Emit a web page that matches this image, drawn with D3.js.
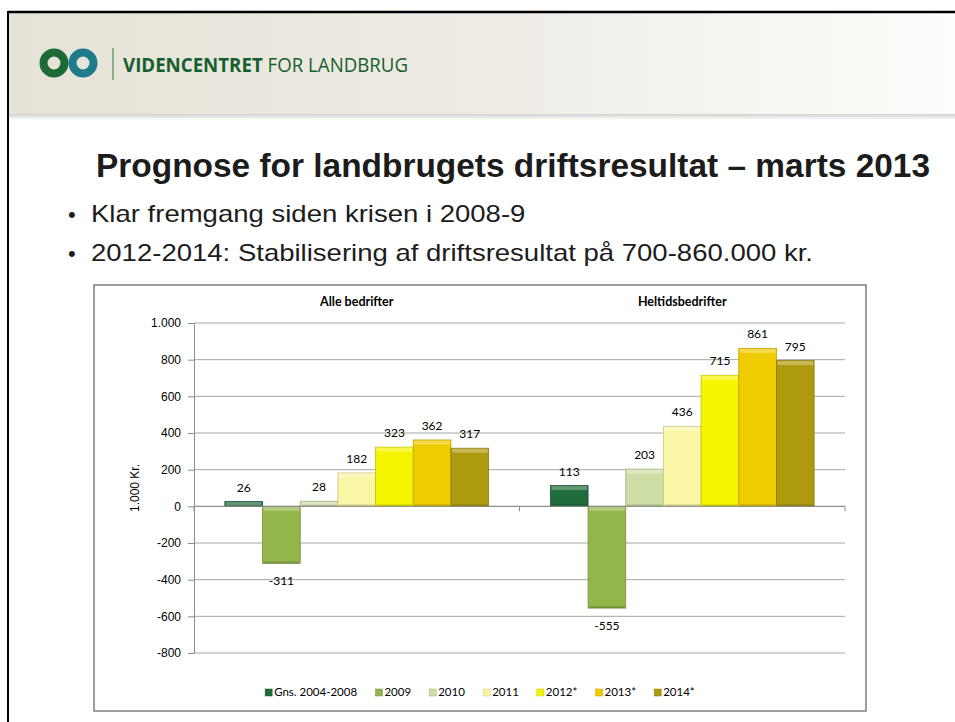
<!DOCTYPE html>
<html>
<head>
<meta charset="utf-8">
<script src="https://cdnjs.cloudflare.com/ajax/libs/d3/7.8.5/d3.min.js"></script>
<style>
  body { margin: 0; background: #fff; }
  svg { display: block; }
</style>
</head>
<body>
<svg id="slide" width="955" height="722"></svg>
<script>
// chart data
var categories = ['Alle bedrifter', 'Heltidsbedrifter'];
var seriesNames = ['Gns. 2004-2008', '2009', '2010', '2011', '2012*', '2013*', '2014*'];
var alleValues = [26, -311, 28, 182, 323, 362, 317];
var heltidValues = [113, -555, 203, 436, 715, 861, 795];
var yTicks = [-800, -600, -400, -200, 0, 200, 400, 600, 800, 1000];
var bullets = ['Klar fremgang siden krisen i 2008-9',
               '2012-2014: Stabilisering af driftsresultat på 700-860.000 kr.'];

var seriesColors = ['#1f6b3b', '#93b64a', '#cddfa6', '#f9f7a6', '#f5f500', '#efcc00', '#ae9a0e'];

var svg = d3.select('#slide');
var defs = svg.append('defs');

// ---- slide frame + header ----
var hdr = defs.append('linearGradient').attr('id', 'hdrGrad');
hdr.append('stop').attr('offset', '0%').attr('stop-color', '#e5e2d7');
hdr.append('stop').attr('offset', '55%').attr('stop-color', '#efede6');
hdr.append('stop').attr('offset', '100%').attr('stop-color', '#fdfdfb');

var shade = defs.append('linearGradient').attr('id', 'shadeGrad')
    .attr('x1', 0).attr('y1', 0).attr('x2', 0).attr('y2', 1);
shade.append('stop').attr('offset', '0%').attr('stop-color', '#000').attr('stop-opacity', 0.18);
shade.append('stop').attr('offset', '100%').attr('stop-color', '#000').attr('stop-opacity', 0);

svg.append('rect').attr('x', 9).attr('y', 13).attr('width', 946).attr('height', 101)
    .attr('fill', 'url(#hdrGrad)');
svg.append('rect').attr('x', 9).attr('y', 114).attr('width', 946).attr('height', 6)
    .attr('fill', 'url(#shadeGrad)');
svg.append('line').attr('x1', 8).attr('x2', 955).attr('y1', 12).attr('y2', 12)
    .attr('stroke', '#000').attr('stroke-width', 2.5);
svg.append('line').attr('x1', 8).attr('x2', 8).attr('y1', 11).attr('y2', 722)
    .attr('stroke', '#000').attr('stroke-width', 2);

// logo rings
var logo = svg.append('g').attr('transform', 'translate(0,63)');
logo.append('circle').attr('cx', 54).attr('cy', 0).attr('r', 10.5)
    .attr('fill', 'none').attr('stroke', '#1c6a34').attr('stroke-width', 8);
logo.append('circle').attr('cx', 83).attr('cy', 0).attr('r', 10.5)
    .attr('fill', 'none').attr('stroke', '#1d7b8a').attr('stroke-width', 8);
svg.append('line').attr('x1', 113).attr('x2', 113).attr('y1', 48).attr('y2', 80)
    .attr('stroke', '#2d7a45').attr('stroke-width', 1);
var brand = svg.append('text').attr('x', 123).attr('y', 72)
    .attr('font-family', 'Open Sans, sans-serif').attr('font-size', 20).attr('fill', '#175f2e');
brand.append('tspan').attr('font-weight', 'bold').text('VIDENCENTRET');
brand.append('tspan').text(' FOR LANDBRUG');
brand.attr('textLength', 285).attr('lengthAdjust', 'spacingAndGlyphs');

// title and bullets
svg.append('text').attr('x', 96).attr('y', 177)
    .attr('font-family', 'Liberation Sans, Arial, sans-serif').attr('font-weight', 'bold')
    .attr('font-size', 33).attr('fill', '#1c1c1c')
    .attr('textLength', 834).attr('lengthAdjust', 'spacingAndGlyphs')
    .text('Prognose for landbrugets driftsresultat – marts 2013');

// bullet lines share one horizontal squeeze, set by the longer line
var bulletNodes = bullets.map(function(b, i) {
    var yb = 222 + i * 39;
    svg.append('text').attr('x', 68).attr('y', yb)
        .attr('font-family', 'Liberation Sans, Arial, sans-serif').attr('font-size', 22)
        .attr('fill', '#1c1c1c').text('•');
    return svg.append('text').attr('x', 91).attr('y', yb)
        .attr('font-family', 'Liberation Sans, Arial, sans-serif').attr('font-size', 24)
        .attr('fill', '#1c1c1c')
        .text(b);
});
var squeeze = 722 / bulletNodes[1].node().getComputedTextLength();
bulletNodes.forEach(function(t) {
    t.attr('textLength', t.node().getComputedTextLength() * squeeze)
        .attr('lengthAdjust', 'spacingAndGlyphs');
});

// ---- chart box ----
var box = {x: 94, y: 285, w: 772, h: 426};
svg.append('rect').attr('x', box.x).attr('y', box.y).attr('width', box.w).attr('height', box.h)
    .attr('fill', '#fff').attr('stroke', '#7f7f7f').attr('stroke-width', 1.5);

var plot = {l: 194, r: 845, t: 323, b: 653};

var yScale = d3.scaleLinear().domain([-800, 1000]).range([plot.b, plot.t]);
var x0 = d3.scaleBand().domain(categories).range([plot.l, plot.r]);
var x1 = d3.scaleBand().domain(seriesNames).range([0, x0.bandwidth()])
    .paddingInner(0).paddingOuter(0.82);

var locale = d3.formatLocale({decimal: ',', thousands: '.', grouping: [3], currency: ['', ''], minus: '-'});
var fmt = locale.format(',');

var chartG = svg.append('g');

// gridlines
chartG.selectAll('.grid').data(yTicks).enter().append('line')
    .attr('class', 'grid')
    .attr('x1', plot.l).attr('x2', plot.r)
    .attr('y1', function(d) { return yScale(d); })
    .attr('y2', function(d) { return yScale(d); })
    .attr('stroke', '#a6a6a6').attr('stroke-width', 1);

// y axis
var yAxis = d3.axisLeft(yScale).tickValues(yTicks).tickSize(6).tickPadding(7).tickFormat(fmt);
var yG = chartG.append('g').attr('transform', 'translate(' + plot.l + ',0)').call(yAxis);
yG.select('.domain').attr('stroke', '#8c8c8c');
yG.selectAll('.tick line').attr('stroke', '#8c8c8c');
yG.selectAll('.tick text').attr('font-family', 'Liberation Sans, Arial, sans-serif')
    .attr('font-size', 12).attr('fill', '#000');

svg.append('text')
    .attr('transform', 'translate(139,' + ((plot.t + plot.b) / 2) + ') rotate(-90)')
    .attr('text-anchor', 'middle')
    .attr('font-family', 'Liberation Sans, Arial, sans-serif').attr('font-size', 12)
    .text('1.000 Kr.');

// category titles
chartG.selectAll('.cat').data(categories).enter().append('text')
    .attr('class', 'cat')
    .attr('x', function(d) { return x0(d) + x0.bandwidth() / 2; })
    .attr('y', 306)
    .attr('text-anchor', 'middle')
    .attr('font-family', 'Lato, sans-serif').attr('font-weight', 'bold').attr('font-size', 12.5)
    .text(function(d) { return d; });

// bars
var table = categories.map(function(c, ci) {
    var vals = ci === 0 ? alleValues : heltidValues;
    return {cat: c, items: seriesNames.map(function(s, si) { return {series: s, idx: si, value: vals[si]}; })};
});

var groups = chartG.selectAll('.grp').data(table).enter().append('g')
    .attr('class', 'grp')
    .attr('transform', function(d) { return 'translate(' + x0(d.cat) + ',0)'; });

var bars = groups.selectAll('.bar').data(function(d) { return d.items; }).enter().append('g')
    .attr('class', 'bar');

function barTop(d) { return yScale(Math.max(0, d.value)); }
function barH(d) { return Math.abs(yScale(d.value) - yScale(0)); }

bars.append('rect')
    .attr('x', function(d) { return x1(d.series); })
    .attr('y', barTop)
    .attr('width', x1.bandwidth())
    .attr('height', barH)
    .attr('fill', function(d) { return seriesColors[d.idx]; })
    .attr('stroke', function(d) { return d3.color(seriesColors[d.idx]).darker(0.6); })
    .attr('stroke-width', 0.8);
// bevel highlight on top edge
bars.append('rect')
    .attr('x', function(d) { return x1(d.series) + 1; })
    .attr('y', function(d) { return barTop(d) + 0.5; })
    .attr('width', x1.bandwidth() - 2)
    .attr('height', function(d) { return Math.min(4, barH(d) - 1); })
    .attr('fill', '#fff').attr('fill-opacity', 0.3);
// darker bottom edge
bars.append('rect')
    .attr('x', function(d) { return x1(d.series) + 1; })
    .attr('y', function(d) { return barTop(d) + barH(d) - Math.min(2, barH(d) / 3); })
    .attr('width', x1.bandwidth() - 2)
    .attr('height', function(d) { return Math.min(2, barH(d) / 3); })
    .attr('fill', '#000').attr('fill-opacity', 0.15);

// data labels
bars.append('text')
    .attr('x', function(d) { return x1(d.series) + x1.bandwidth() / 2; })
    .attr('y', function(d) { return d.value >= 0 ? yScale(d.value) - 10 : yScale(d.value) + 22; })
    .attr('text-anchor', 'middle')
    .attr('font-family', 'Lato, sans-serif').attr('font-size', 12)
    .text(function(d) { return fmt(d.value); });

// x axis on zero line
chartG.append('line').attr('x1', plot.l).attr('x2', plot.r)
    .attr('y1', yScale(0)).attr('y2', yScale(0))
    .attr('stroke', '#8c8c8c');
var bounds = categories.map(function(c) { return x0(c); }).concat([plot.r]);
chartG.selectAll('.xtick').data(bounds).enter().append('line')
    .attr('x1', function(d) { return d; }).attr('x2', function(d) { return d; })
    .attr('y1', yScale(0)).attr('y2', yScale(0) + 5)
    .attr('stroke', '#8c8c8c');

// legend
var legend = svg.append('g').attr('transform', 'translate(0,696)');
var lx = 0;
var items = legend.selectAll('.leg').data(seriesNames).enter().append('g').attr('class', 'leg');
items.append('rect').attr('x', 0).attr('y', -7).attr('width', 7).attr('height', 7)
    .attr('fill', function(d, i) { return seriesColors[i]; })
    .attr('stroke', function(d, i) { return d3.color(seriesColors[i]).darker(0.6); })
    .attr('stroke-width', 0.5);
items.append('text').attr('x', 9).attr('y', 0)
    .attr('font-family', 'Lato, sans-serif').attr('font-size', 11.5)
    .text(function(d) { return d; });
items.each(function() {
    var g = d3.select(this);
    g.attr('transform', 'translate(' + lx + ',0)');
    lx += this.getBBox().width + 18;
});
legend.attr('transform', 'translate(' + (box.x + box.w / 2 - (lx - 18) / 2) + ',696)');
</script>
</body>
</html>
